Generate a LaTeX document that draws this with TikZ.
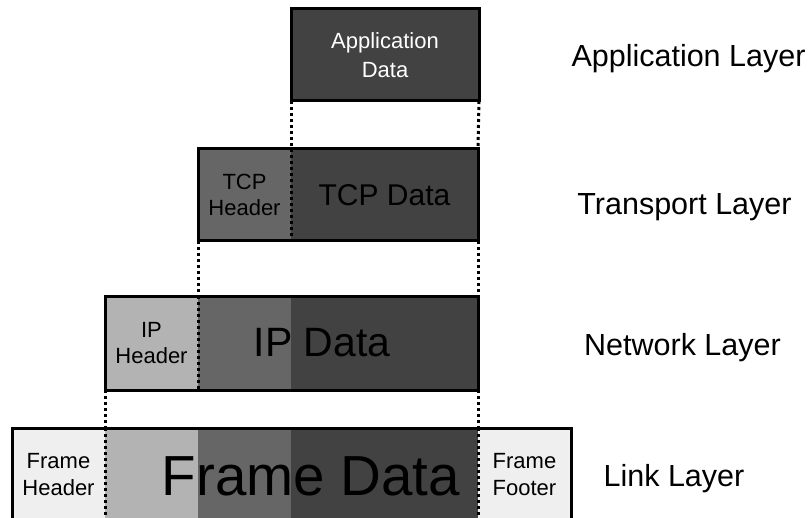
\documentclass[tikz,border=0pt]{standalone}
\usepackage{fontspec}
\setmainfont{Liberation Sans}
\usetikzlibrary{positioning}

\definecolor{datagray}{HTML}{424242}
\definecolor{tcpgray}{HTML}{666666}
\definecolor{ipgray}{HTML}{B3B3B3}
\definecolor{framegray}{HTML}{EFEFEF}

\begin{document}
\begin{tikzpicture}[x=1pt, y=-1pt, node distance=0pt,
          seg/.style={rectangle, inner sep=0pt, outer sep=0pt, anchor=north west},
          hdrtext/.style={font=\fontsize{22}{26.5}\selectfont, align=center, text depth=-3pt},
          layertext/.style={font=\fontsize{30.5}{36}\selectfont, anchor=base},
          outline/.style={draw=black, line width=3pt},
          divider/.style={line width=3pt, dash pattern=on 3pt off 3pt}]
        \clip (0,0) rectangle (810,518);

        % application layer
        \node [seg, outline, fill=datagray, minimum width=188pt, minimum height=92pt, hdrtext, text=white, font=\fontsize{22}{28.5}\selectfont] (app) at (291,9) {Application\\Data};

        % transport layer
        \node [seg, fill=tcpgray, minimum width=93pt, minimum height=92pt, hdrtext] (tcph) at (198,149) {TCP\\Header};
        \node [seg, fill=datagray, minimum width=187pt, minimum height=92pt, font=\fontsize{30}{36}\selectfont, right=of tcph] (tcpd) {TCP Data};

        % network layer
        \node [seg, fill=ipgray, minimum width=93pt, minimum height=94pt, hdrtext] (iph) at (105,296) {IP\\Header};
        \node [seg, fill=tcpgray, minimum width=93pt, minimum height=94pt, right=of iph] (ipmid) {};
        \node [seg, fill=datagray, minimum width=187pt, minimum height=94pt, right=of ipmid] (ipdata) {};
        \node [font=\fontsize{41}{48}\selectfont] (iptext) at (322,343) {IP Data};

        % link layer
        \node [seg, fill=framegray, minimum width=93pt, minimum height=93pt, hdrtext] (fh) at (12,428) {Frame\\Header};
        \node [seg, fill=ipgray, minimum width=93pt, minimum height=93pt, right=of fh] (fip) {};
        \node [seg, fill=tcpgray, minimum width=93pt, minimum height=93pt, right=of fip] (ftcp) {};
        \node [seg, fill=datagray, minimum width=187pt, minimum height=93pt, right=of ftcp] (fdata) {};
        \node [seg, fill=framegray, minimum width=93pt, minimum height=93pt, hdrtext, right=of fdata] (ff) {Frame\\Footer};
        \node [font=\fontsize{56.5}{64}\selectfont] (ftext) at (311,476) {Frame Data};

        % outlines and dividers
        \draw [outline] (tcph.north west) rectangle (tcpd.south east);
        \draw [outline] (iph.north west) rectangle (ipdata.south east);
        \draw [outline] (fh.north west) rectangle (ff.south east);
        \draw [divider] (tcph.north east) -- (tcph.south east);
        \draw [divider] (iph.north east) -- (iph.south east);
        \draw [divider] (fh.north east) -- (fh.south east);
        \draw [divider] (ff.north west) -- (ff.south west);

        % encapsulation guides
        \draw [divider] (app.south west) -- (tcpd.north west);
        \draw [divider] (app.south east) -- (tcpd.north east);
        \draw [divider] (tcph.south west) -- (ipmid.north west);
        \draw [divider] (tcpd.south east) -- (ipdata.north east);
        \draw [divider] (iph.south west) -- (fip.north west);
        \draw [divider] (ipdata.south east) -- (fdata.north east);

        % layer names
        \node [layertext] (applayer) at (688.5,67) {Application Layer};
        \node [layertext] (translayer) at (684.5,215) {Transport Layer};
        \node [layertext] (netlayer) at (682.5,355) {Network Layer};
        \node [layertext] (linklayer) at (674,486) {Link Layer};
      \end{tikzpicture}
\end{document}
